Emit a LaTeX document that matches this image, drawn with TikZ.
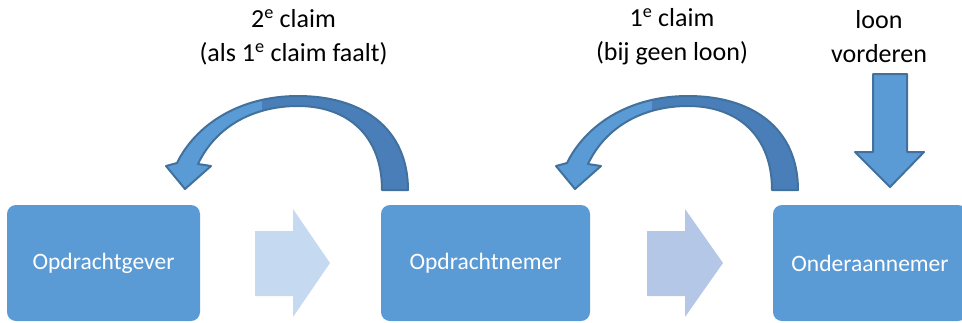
\documentclass[tikz,border=0pt]{standalone}
\usepackage{fontspec}
\setmainfont{Carlito}
\definecolor{boxblue}{HTML}{5B9BD5}
\definecolor{edgeblue}{HTML}{41719C}
\definecolor{backface}{HTML}{4A7EB8}
\definecolor{paleA}{HTML}{C5D9F1}
\definecolor{paleB}{HTML}{B4C7E7}
\begin{document}
\begin{tikzpicture}[x=1pt,y=-1pt,
  stage/.style={fill=boxblue, rounded corners=9pt, text=white,
    font=\fontsize{23.5}{28}\selectfont, inner sep=0pt},
  caption/.style={align=center, font=\fontsize{26}{34}\selectfont, inner sep=0pt},
  outline/.style={draw=edgeblue, line width=2pt, line join=round}]
\useasboundingbox (0,0) rectangle (962,322);

% the three parties
\node[stage, minimum width=193pt, minimum height=116pt] (gever) at (103.5,263) {Opdrachtgever};
\node[stage, minimum width=209pt, minimum height=116pt] (nemer) at (485.5,263) {Opdrachtnemer};
\node[stage, minimum width=194pt, minimum height=116pt] (onder) at (870,263) {Onderaannemer};

% captions
\node[caption] (c2) at (293.5,37) {2\textsuperscript{e} claim\\(als 1\textsuperscript{e} claim faalt)};
\node[caption] (c1) at (672,37) {1\textsuperscript{e} claim\\(bij geen loon)};
\node[caption] (cl) at (879,37) {loon\\vorderen};

% pale block arrows between the parties
\fill[paleA] (255,231) -- (293,231) -- (293,209) -- (330,263) -- (293,317) -- (293,296) -- (255,296) -- cycle;
\fill[paleB] (647,231) -- (685,231) -- (685,209) -- (723,263) -- (685,317) -- (685,296) -- (647,296) -- cycle;

% down arrow onto the subcontractor
\path[fill=boxblue, outline] (873,74) -- (907,74) -- (907,152) -- (924,152) -- (890,187)
  -- (855,152) -- (873,152) -- cycle;

% curved claim arrows
\foreach \dx in {0,390}{
  \begin{scope}[xshift=\dx pt]
    \def\claimpath{(408,190) .. controls (408,128) and (362,96) .. (298,96)
      .. controls (238,96) and (195,126) .. (177,163)
      -- (166,166) -- (185,189) -- (211,166) -- (198,164)
      .. controls (216,126) and (254,106) .. (298,106)
      .. controls (348,106) and (382,136) .. (382,190) -- cycle}
    \fill[boxblue] \claimpath;
    \begin{scope}
      \clip (262,60) rectangle (430,200);
      \fill[backface] \claimpath;
    \end{scope}
    \draw[outline] \claimpath;
  \end{scope}
}
\end{tikzpicture}
\end{document}
